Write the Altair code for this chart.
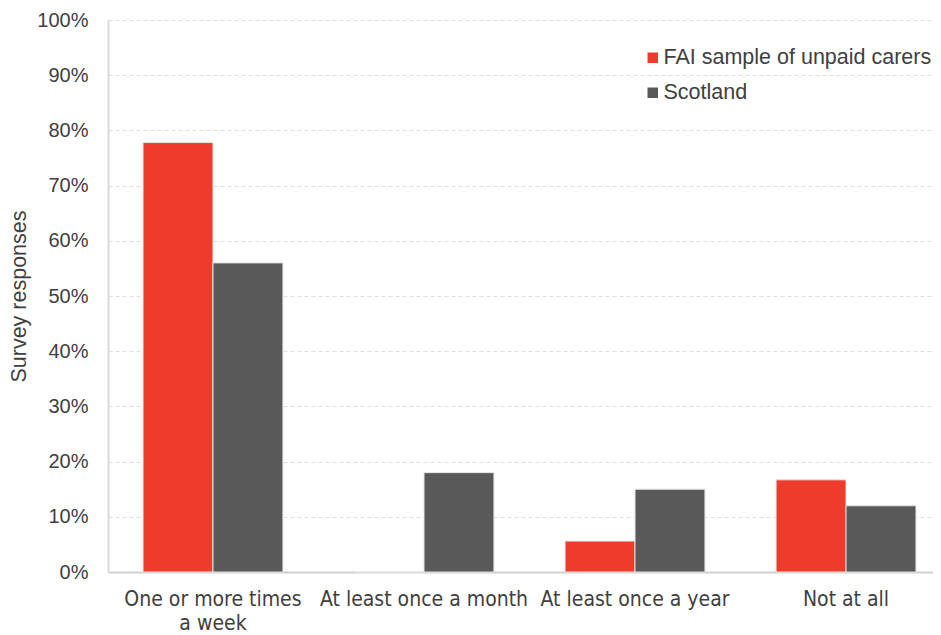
import altair as alt
import pandas as pd

categories = ["One or more times a week", "At least once a month", "At least once a year", "Not at all"]
series = ["FAI sample of unpaid carers", "Scotland"]
fai_values = [0.778, 0.0, 0.056, 0.167]
scotland_values = [0.56, 0.18, 0.15, 0.12]
colors = ["#EE3B2B", "#595959"]

rows = []
for c, v in zip(categories, fai_values):
    rows.append({"category": c, "series": series[0], "value": v})
for c, v in zip(categories, scotland_values):
    rows.append({"category": c, "series": series[1], "value": v})
df = pd.DataFrame(rows)

font = "Liberation Sans"

chart = alt.Chart(df).mark_bar(stroke="#e6e6e6", strokeWidth=1).encode(
    x=alt.X("category:N", sort=categories, title=None,
            scale=alt.Scale(paddingInner=0.337, paddingOuter=0.166, range=[0, 843]),
            axis=alt.Axis(labelAngle=0, labelFontSize=21, labelColor="#404040",
                          labelFont="DejaVu Sans Condensed", ticks=False,
                          domainColor="#d0d0d0", domainWidth=2, labelPadding=16,
                          labelLineHeight=24, labelLimit=300,
                          labelExpr="datum.label == 'One or more times a week' ? ['One or more times', 'a week'] : datum.label")),
    xOffset=alt.XOffset("series:N", sort=series),
    y=alt.Y("value:Q", title="Survey responses",
            scale=alt.Scale(domain=[0, 1]),
            axis=alt.Axis(format=".0%", values=[i / 10 for i in range(11)],
                          labelOverlap=False,
                          labelFontSize=20, labelColor="#404040", labelFont=font,
                          ticks=False, domainColor="#d9d9d9", domainWidth=2,
                          gridColor="#dedede", gridDash=[4, 3], labelPadding=20,
                          titleFontSize=21.5, titleFont=font, titleColor="#404040",
                          titleFontWeight="normal", titlePadding=6)),
    color=alt.Color("series:N", sort=series,
                    scale=alt.Scale(domain=series, range=colors),
                    legend=alt.Legend(title=None, orient="none", legendX=534, legendY=27,
                                      symbolType="square", symbolSize=110,
                                      symbolStrokeWidth=0, labelLimit=400,
                                      labelFontSize=21.5, labelFont=font, labelColor="#404040",
                                      rowPadding=12, labelOffset=0)),
).properties(
    width=824, height=552,
    autosize=alt.AutoSizeParams(type="none"),
    padding={"left": 100, "top": 12, "right": 1, "bottom": 62},
).configure_view(stroke=None)

chart.save("out.html", embed_options={"renderer": "svg", "actions": False})
